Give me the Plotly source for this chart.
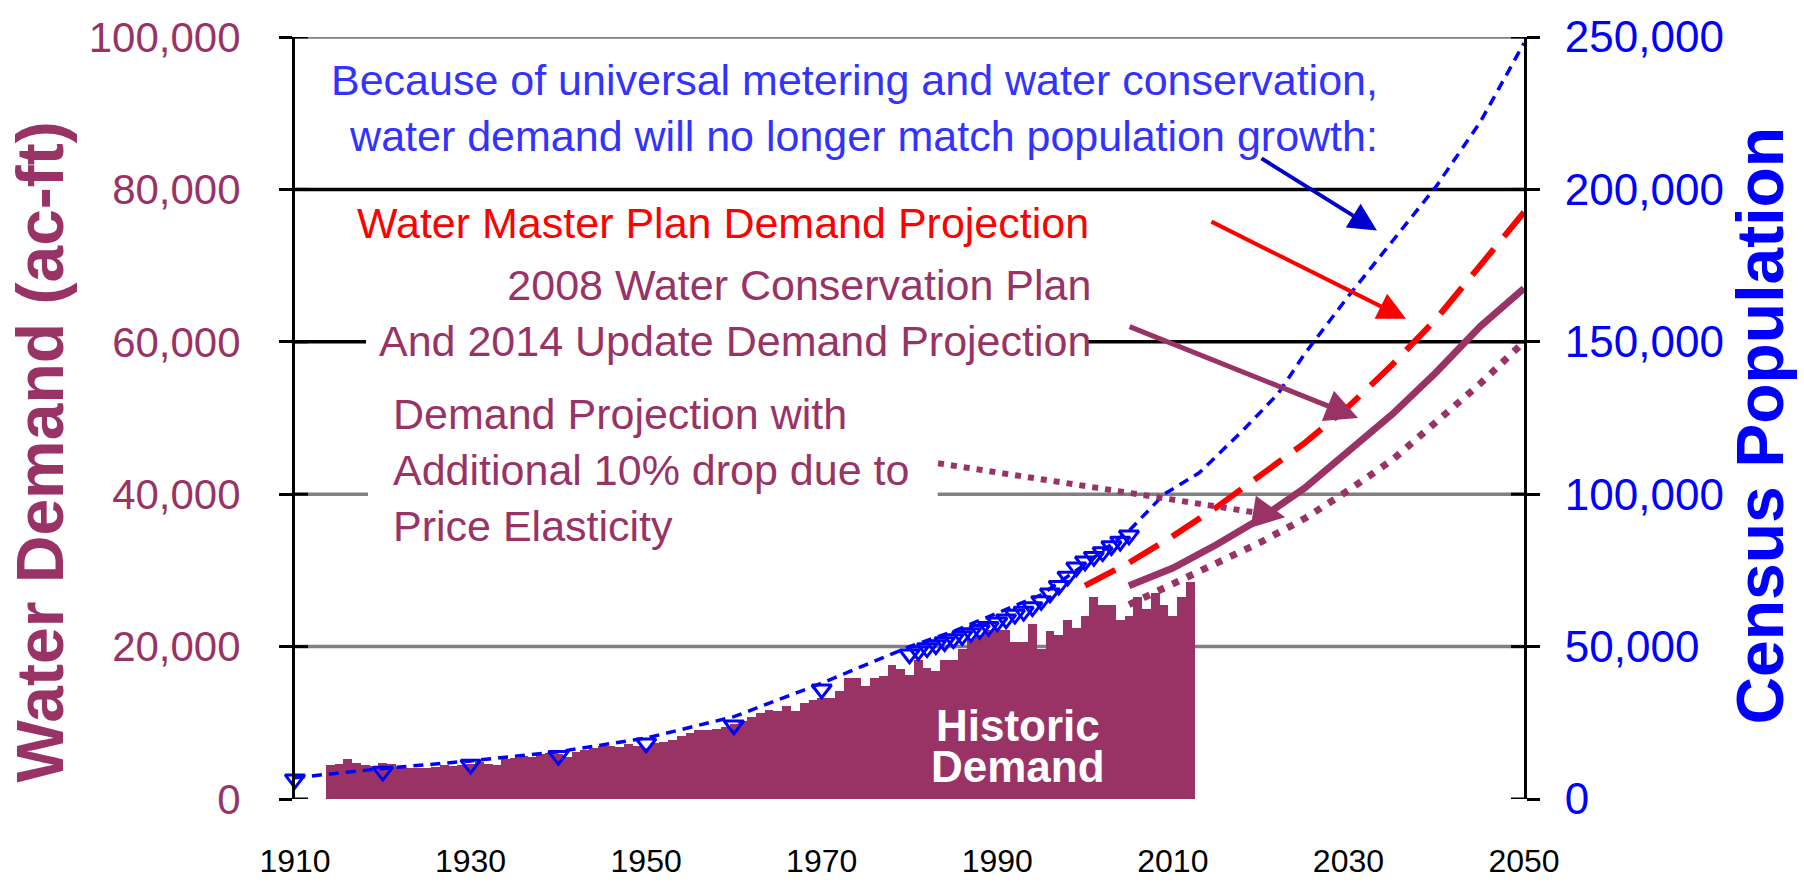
import plotly.graph_objects as go

PURPLE = "#993366"
BLUE = "#0000FF"
TXTBLUE = "#3333FF"
RED = "#FF0000"

# ---------------- data ----------------
bar_years = list(range(1914, 2013))
demand = [
    4400, 4600, 5200, 4700, 4500, 4300,            # 1914-1919
    4700, 4600, 4200, 4100, 4100, 4100, 4200, 4400, 4300, 4500,   # 1920s
    4600, 4800, 4600, 4500, 5300, 5400, 5600, 5500, 5900, 6000,   # 1930s
    5900, 5500, 6200, 6400, 6700, 6900, 7000, 6800, 7200, 6900,   # 1940s
    6700, 7300, 7500, 7800, 8300, 8600, 9100, 9000, 9200, 9400,   # 1950s
    9800, 10200, 10800, 11300, 11700, 11500, 12200, 11600, 12600, 13000,  # 1960s
    13200, 13300, 14200, 15900, 15900, 14800, 15900, 16200, 17600, 17000,  # 1970s
    16300, 18300, 17200, 16800, 18300, 18300, 19700, 21000, 21500, 22200,  # 1980s
    22200, 22200, 20600, 20600, 23000, 19700, 22000, 21500, 23500, 22500,  # 1990s
    24000, 26500, 25500, 25500, 23500, 24000, 26500, 25000, 27000, 25500,  # 2000s
    24000, 26500, 28500,                                                   # 2010-2012
]

pop_years = [1910, 1920, 1930, 1940, 1950, 1960, 1970] + list(range(1980, 2006))
population = [
    6500, 9000, 11300, 14200, 18300, 24200, 36000,
    47500, 48500, 49500, 50500, 51500, 52500, 53500, 54500, 55500, 56500,
    58000, 59000, 60500, 61500, 63000, 65000, 67500, 70000, 73000, 76000,
    78000, 79500, 81000, 83000, 84500, 86500,
]

trend_years = [1910, 1920, 1930, 1940, 1950, 1960, 1970, 1980, 1985, 1990, 1995,
               2000, 2005, 2009, 2013, 2018, 2022, 2025, 2030, 2035, 2040, 2045, 2050]
pop_trend = [7000, 10000, 12500, 15500, 20000, 27000, 38000, 50000, 55000, 61000, 67000,
             77000, 88000, 100000, 107000, 121000, 133000, 146000, 165000, 183000, 201000,
             222000, 248000]

wmp_years = [2000, 2005, 2010, 2015, 2020, 2025, 2030, 2035, 2040, 2045, 2050]
wmp_demand = [28000, 31000, 34500, 38300, 42500, 46700, 51500, 57000, 63000, 70000, 77000]

wcp_years = [2005, 2010, 2015, 2020, 2025, 2030, 2035, 2040, 2045, 2050]
wcp_demand = [28000, 30300, 33400, 36800, 40800, 45800, 50500, 56000, 62000, 67000]
elastic_demand = [25500, 28200, 30800, 33700, 36800, 40500, 44500, 49500, 54500, 60000]

x_ticks = [1910, 1930, 1950, 1970, 1990, 2010, 2030, 2050]
left_ticks = [0, 20000, 40000, 60000, 80000, 100000]
right_ticks = [0, 50000, 100000, 150000, 200000, 250000]

# ---------------- figure ----------------
fig = go.Figure()
fig.add_trace(go.Bar(x=bar_years, y=demand, width=1.0,
                     marker=dict(color=PURPLE, line=dict(width=0)), yaxis="y"))
fig.add_trace(go.Scatter(x=wmp_years, y=wmp_demand, mode="lines", yaxis="y",
                         line=dict(color=RED, width=6, dash="34px,16px")))
fig.add_trace(go.Scatter(x=wcp_years, y=wcp_demand, mode="lines", yaxis="y",
                         line=dict(color=PURPLE, width=7)))
fig.add_trace(go.Scatter(x=wcp_years, y=elastic_demand, mode="lines", yaxis="y",
                         line=dict(color=PURPLE, width=7, dash="7px,9px")))
fig.add_trace(go.Scatter(x=trend_years, y=pop_trend, mode="lines", yaxis="y2",
                         line=dict(color=BLUE, width=3.5, dash="10px,7px"), cliponaxis=False))
fig.add_trace(go.Scatter(x=pop_years, y=population, mode="markers", yaxis="y2", cliponaxis=False,
                         marker=dict(symbol="triangle-down-open", size=17, color=BLUE,
                                     line=dict(width=3, color=BLUE))))

SANS = "Liberation Sans, Arial, sans-serif"

fig.update_layout(
    width=1804, height=891,
    margin=dict(l=295, r=280, t=24, b=91),
    plot_bgcolor="white", paper_bgcolor="white",
    showlegend=False, bargap=0,
    xaxis=dict(range=[1910, 2050], tickvals=x_ticks, showgrid=False, zeroline=False,
               showline=False, ticks="", ticklabelstandoff=40, ticklabeloverflow="allow",
               tickfont=dict(family=SANS, size=32, color="black")),
    yaxis=dict(range=[0, 100000], tickvals=left_ticks,
               ticktext=[f"{v:,}" for v in left_ticks],
               showgrid=False, zeroline=False, showline=True, linecolor="black", linewidth=3,
               ticks="outside", ticklen=13, tickwidth=3, tickcolor="black",
               ticklabelstandoff=30, ticklabeloverflow="allow",
               tickfont=dict(family=SANS, size=42, color=PURPLE)),
    yaxis2=dict(range=[0, 250000], overlaying="y", side="right", tickvals=right_ticks,
                ticktext=[f"{v:,}" for v in right_ticks],
                showgrid=False, zeroline=False, showline=True, linecolor="black", linewidth=3,
                ticks="outside", ticklen=13, tickwidth=3, tickcolor="black",
                ticklabelstandoff=16, ticklabeloverflow="allow",
                tickfont=dict(family=SANS, size=44, color=BLUE)),
)

# gridlines
grid_colors = ["#808080", "#808080", "black", "black", "#808080"]
shapes = []
for v, c in zip(left_ticks[1:], grid_colors):
    shapes.append(dict(type="line", xref="paper", yref="y", x0=0, x1=1, y0=v, y1=v,
                       line=dict(color=c, width=3.5), layer="below"))
# white masks behind text boxes
shapes.append(dict(type="rect", xref="paper", yref="y", x0=0.0578, x1=0.6444, y0=57000, y1=63000,
                   fillcolor="white", line=dict(width=0), layer="below"))
shapes.append(dict(type="rect", xref="paper", yref="y", x0=0.0594, x1=0.523, y0=37000, y1=43000,
                   fillcolor="white", line=dict(width=0), layer="below"))
# inner halves of crossing ticks
tk = 13 / 1229
for v in left_ticks:
    shapes.append(dict(type="line", xref="paper", yref="y", x0=0, x1=tk, y0=v, y1=v,
                       line=dict(color="black", width=3)))
    shapes.append(dict(type="line", xref="paper", yref="y", x0=1 - tk, x1=1, y0=v, y1=v,
                       line=dict(color="black", width=3)))
# dotted pointer line
shapes.append(dict(type="line", xref="x", yref="y", x0=1983.25, y0=44070, x1=2020.5, y1=37400,
                   line=dict(color=PURPLE, width=6, dash="6px,7px")))
fig.update_layout(shapes=shapes)

ann = []
# axis titles
ann.append(dict(text="<b>Water Demand (ac-ft)</b>", xref="paper", yref="paper", x=-0.2075, y=0.456,
                xanchor="center", yanchor="middle",
                textangle=-90, showarrow=False, font=dict(family=SANS, size=66, color=PURPLE)))
ann.append(dict(text="<b>Census Population</b>", xref="paper", yref="paper", x=1.192, y=0.49,
                xanchor="center", yanchor="middle",
                textangle=-90, showarrow=False, font=dict(family=SANS, size=66, color=BLUE)))
# text blocks
ann.append(dict(text="Because of universal metering and water conservation,<br>water demand will no longer match population growth:",
                xref="paper", yref="paper", x=0.883, y=0.9066, xanchor="right", yanchor="middle",
                align="right", showarrow=False, font=dict(family=SANS, size=43, color=TXTBLUE)))
ann.append(dict(text="Water Master Plan Demand Projection", xref="paper", yref="paper",
                x=0.348, y=0.7564, xanchor="center", yanchor="middle", showarrow=False,
                font=dict(family=SANS, size=43, color=RED)))
ann.append(dict(text="2008 Water Conservation Plan<br>And 2014 Update Demand Projection",
                xref="paper", yref="paper", x=0.6493, y=0.6379, xanchor="right", yanchor="middle",
                align="right", showarrow=False, font=dict(family=SANS, size=43, color=PURPLE)))
ann.append(dict(text="Demand Projection with<br>Additional 10% drop due to<br>Price Elasticity",
                xref="paper", yref="paper", x=0.0781, y=0.4317, xanchor="left", yanchor="middle",
                align="left", showarrow=False, font=dict(family=SANS, size=43, color=PURPLE)))
ann.append(dict(text="<b>Historic</b>", xref="paper", yref="paper", x=0.5883, y=0.0970,
                xanchor="center", yanchor="middle", showarrow=False,
                font=dict(family=SANS, size=44, color="white")))
ann.append(dict(text="<b>Demand</b>", xref="paper", yref="paper", x=0.5883, y=0.0420,
                xanchor="center", yanchor="middle", showarrow=False,
                font=dict(family=SANS, size=44, color="white")))
# arrows
ann.append(dict(text="", x=2033.25, y=74610, xref="x", yref="y", ax=-117, ay=-73,
                showarrow=True, arrowhead=2, arrowsize=1.4, arrowwidth=4, arrowcolor="#0000CC"))
ann.append(dict(text="", x=2036.55, y=63010, xref="x", yref="y", ax=-196, ay=-98,
                showarrow=True, arrowhead=2, arrowsize=1.4, arrowwidth=4, arrowcolor=RED))
ann.append(dict(text="", x=2031.1, y=50000, xref="x", yref="y", ax=-230, ay=-92,
                showarrow=True, arrowhead=2, arrowsize=1.3, arrowwidth=5, arrowcolor=PURPLE))
ann.append(dict(text="", x=2022.8, y=36990, xref="x", yref="y", ax=-30, ay=-5,
                showarrow=True, arrowhead=2, arrowsize=1.3, arrowwidth=5, arrowcolor=PURPLE))
fig.update_layout(annotations=ann)

fig.write_html("out.html", config={"displayModeBar": False},
               post_script="document.body.style.margin='0';document.documentElement.style.overflow='hidden';")
